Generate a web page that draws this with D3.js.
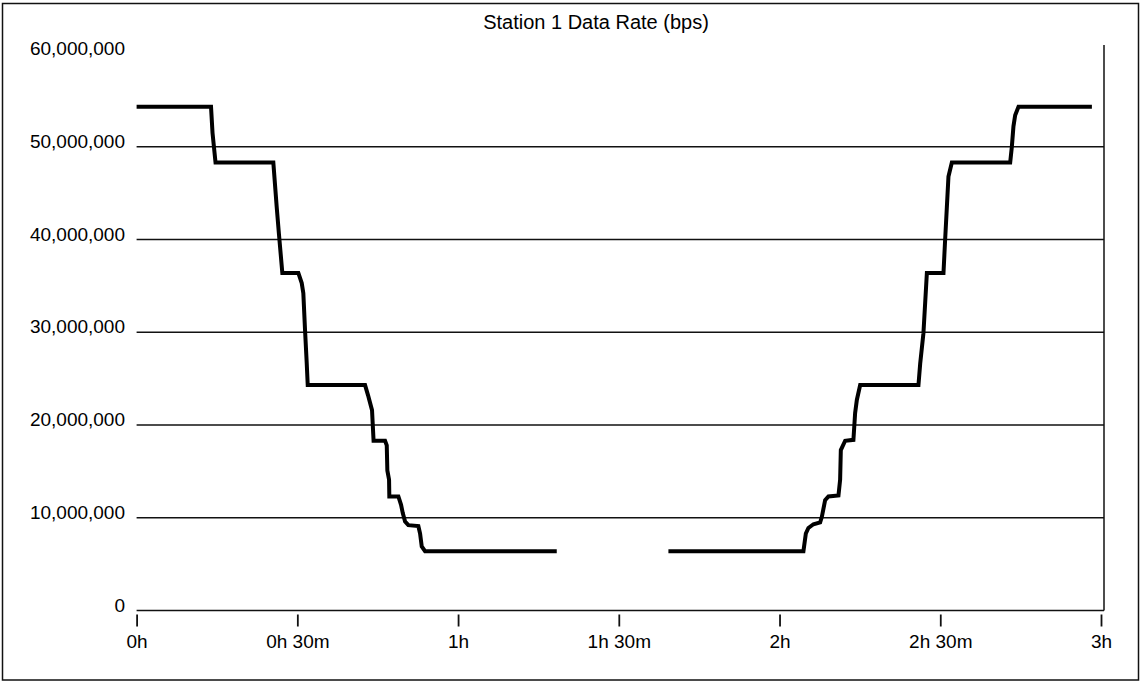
<!DOCTYPE html>
<html>
<head>
<meta charset="utf-8">
<script src="https://cdn.jsdelivr.net/npm/d3@7"></script>
<style>
  html, body { margin: 0; padding: 0; background: #fff; }
  svg { display: block; }
  text { font-family: "Liberation Sans", Arial, sans-serif; fill: #000; }
</style>
</head>
<body>
<svg id="chart" width="1142" height="686"></svg>
<script>
// Station 1 data rate over a 3-hour pass (time in minutes, rate in Mbps).
// A null rate marks the interval with no samples.
const timeMin = [
  0, 13.89, 14.17, 14.73,
  25.52, 26.15, 26.58, 27.20,
  30.19, 30.82, 31.12, 31.44, 31.75, 31.94,
  42.64, 43.20, 43.94, 44.23,
  46.37, 46.69, 46.80, 47.12, 47.17,
  48.86, 49.36, 49.68, 50.11, 50.72, 52.59, 52.91, 53.22, 53.84,
  78.42,
  88.0,
  99.26, 124.46, 124.91, 125.39, 126.33, 127.58, 127.90, 128.51, 129.13,
  131.00, 131.31, 131.44, 132.25, 133.79, 134.11, 134.43, 135.05,
  145.93, 146.25, 146.86, 147.50,
  150.60, 150.91, 151.23, 151.53, 152.16,
  163.05, 163.36, 163.66, 163.98, 164.60,
  178.30
];
const rateMbps = [
  54.3, 54.3, 51.5, 48.3,
  48.3, 43.5, 40.5, 36.4,
  36.4, 35.3, 34.2, 30.2, 26.7, 24.3,
  24.3, 23.2, 21.6, 18.3,
  18.3, 17.8, 15.1, 14.1, 12.3,
  12.3, 11.4, 10.5, 9.6, 9.2, 9.1, 8.3, 6.9, 6.4,
  6.4,
  null,
  6.4, 6.4, 8.3, 8.9, 9.3, 9.5, 10.1, 11.9, 12.3,
  12.4, 14.1, 17.3, 18.3, 18.4, 21.3, 22.7, 24.3,
  24.3, 26.6, 29.9, 36.4,
  36.4, 40.0, 43.5, 46.8, 48.3,
  48.3, 50.0, 52.2, 53.4, 54.3,
  54.3
];

const yTicks = [0, 10e6, 20e6, 30e6, 40e6, 50e6, 60e6];
const gridValues = [10e6, 20e6, 30e6, 40e6, 50e6];
const xTicksMin = [0, 30, 60, 90, 120, 150, 180];
const xTickLabels = ["0h", "0h 30m", "1h", "1h 30m", "2h", "2h 30m", "3h"];
const title = "Station 1 Data Rate (bps)";

const svg = d3.select("#chart");

const plot = { left: 136.6, right: 1101, top: 54, bottom: 610.5, frameRight: 1104 };

const x = d3.scaleLinear().domain([0, 180]).range([plot.left, plot.right]);
const y = d3.scaleLinear().domain([0, 60e6]).range([plot.bottom, plot.top]);

// outer frame
svg.append("rect")
  .attr("x", 2.5).attr("y", 3.5)
  .attr("width", 1136).attr("height", 676.5)
  .attr("fill", "none").attr("stroke", "#111").attr("stroke-width", 1.5);

// title
svg.append("text")
  .attr("x", 596).attr("y", 29)
  .attr("text-anchor", "middle")
  .style("font-size", "20px")
  .text(title);

// horizontal grid lines
svg.append("g").selectAll("line")
  .data(gridValues)
  .join("line")
  .attr("x1", plot.left).attr("x2", plot.frameRight)
  .attr("y1", d => y(d)).attr("y2", d => y(d))
  .attr("stroke", "#111").attr("stroke-width", 1.6);

// right frame of the plot area
svg.append("line")
  .attr("x1", plot.frameRight).attr("x2", plot.frameRight)
  .attr("y1", 45).attr("y2", y(0))
  .attr("stroke", "#111").attr("stroke-width", 1.5);

// y axis labels
const fmt = d3.format(",");
const yAxis = d3.axisLeft(y).tickValues(yTicks).tickSize(0).tickPadding(0)
  .tickFormat(d => fmt(d));
const yg = svg.append("g").attr("transform", "translate(125,0)").call(yAxis);
yg.select(".domain").remove();
yg.selectAll("text")
  .attr("dy", "0")
  .attr("y", 0.5)
  .style("font-size", "19px")
  .style("font-family", "'Liberation Sans', Arial, sans-serif");

// x axis
const xAxis = d3.axisBottom(x).tickValues(xTicksMin).tickSizeInner(0).tickSizeOuter(0)
  .tickPadding(0)
  .tickFormat((d, i) => xTickLabels[i]);
const xg = svg.append("g").attr("transform", `translate(0,${y(0)})`).call(xAxis);
xg.select(".domain").remove();
xg.selectAll(".tick line")
  .attr("y1", 4).attr("y2", 16)
  .attr("stroke", "#111").attr("stroke-width", 1.8);
xg.selectAll(".tick text")
  .attr("y", 37).attr("dy", 0)
  .style("font-size", "19px")
  .style("font-family", "'Liberation Sans', Arial, sans-serif");

svg.append("line")
  .attr("x1", plot.left).attr("x2", plot.frameRight)
  .attr("y1", y(0)).attr("y2", y(0))
  .attr("stroke", "#111").attr("stroke-width", 1.6);

// data rate trace
const pts = timeMin.map((t, i) => ({ t, v: rateMbps[i] }));
const line = d3.line()
  .defined(d => d.v !== null)
  .x(d => x(d.t))
  .y(d => y(d.v * 1e6));

svg.append("path")
  .datum(pts)
  .attr("d", line)
  .attr("fill", "none")
  .attr("stroke", "#000")
  .attr("stroke-width", 4)
  .attr("stroke-linejoin", "miter")
  .attr("stroke-miterlimit", 2);
</script>
</body>
</html>
